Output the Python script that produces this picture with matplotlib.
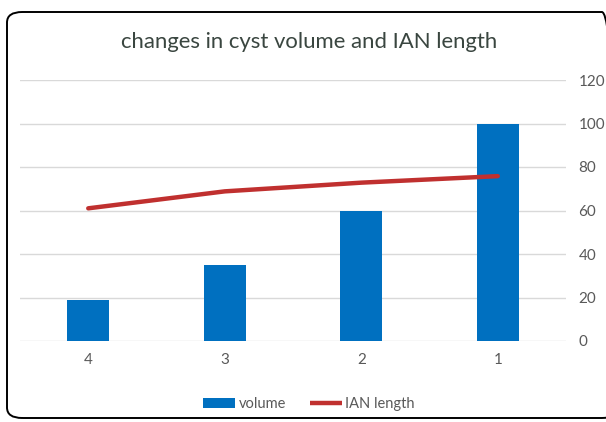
import matplotlib.pyplot as plt
from matplotlib.patches import FancyBboxPatch
from matplotlib.lines import Line2D
from matplotlib.patches import Patch

# data
categories = ["4", "3", "2", "1"]
volume = [19, 35, 60, 100]
ian_length = [61, 68.8, 72.8, 75.8]
y_ticks = [0, 20, 40, 60, 80, 100, 120]

plt.rcParams['font.family'] = ['Lato', 'DejaVu Sans']

fig = plt.figure(figsize=(6.06, 4.22), dpi=100)
fig.patch.set_facecolor('white')

# rounded frame around the whole chart
frame = FancyBboxPatch((7 / 606, 4 / 422), 610 / 606, 406 / 422,
                       boxstyle="round,pad=0,rounding_size=0.025",
                       transform=fig.transFigure, facecolor='none',
                       edgecolor='black', linewidth=1.4, clip_on=False)
fig.patches.append(frame)

ax = fig.add_axes([20 / 606, 1 - 341 / 422, 546 / 606, 261 / 422])
x = range(len(categories))
ax.bar(x, volume, width=0.31, color='#0070C0', zorder=2)
ax.plot(x, ian_length, color='#C0302F', linewidth=3.2, solid_capstyle='round', zorder=3)

ax.set_xlim(-0.5, len(categories) - 0.5)
ax.set_ylim(0, 120)
ax.set_yticks(y_ticks)
ax.set_xticks(list(x))
ax.set_xticklabels(categories)
ax.yaxis.tick_right()
ax.tick_params(axis='both', length=0, labelsize=11, colors='#595959')
ax.tick_params(axis='y', pad=9)
ax.tick_params(axis='x', pad=9)
ax.grid(axis='y', color='#D9D9D9', linewidth=1, zorder=0)
for s in ax.spines.values():
    s.set_visible(False)

fig.text(0.51, 1 - 42 / 422, "changes in cyst volume and IAN length",
         ha='center', va='center', fontsize=15.9, color='#3a4640')

handles = [Patch(facecolor='#0070C0', label='volume'),
           Line2D([0], [0], color='#C0302F', linewidth=3.2,
                  solid_capstyle='butt', label='IAN length')]
leg = fig.legend(handles=handles, loc='center', bbox_to_anchor=(0.51, 1 - 404 / 422),
                 ncol=2, frameon=False, fontsize=10.5, handlelength=2.2,
                 handletextpad=0.25, columnspacing=1.6)
for t in leg.get_texts():
    t.set_color('#595959')

fig.savefig('out.png', dpi=100)
